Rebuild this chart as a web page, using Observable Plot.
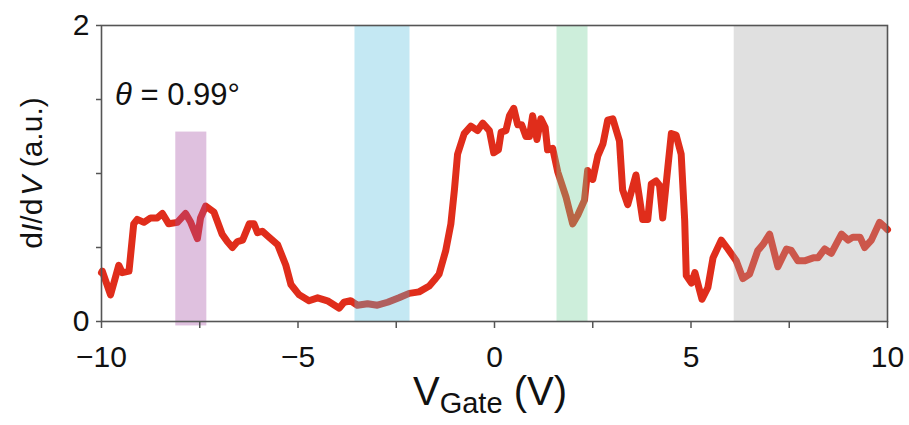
<!DOCTYPE html>
<html><head><meta charset="utf-8">
<script src="https://cdn.jsdelivr.net/npm/d3@7"></script>
<script src="https://cdn.jsdelivr.net/npm/@observablehq/plot@0.6"></script>
<style>body{margin:0;background:#fff} #chart{width:909px;height:425px}</style>
</head><body><div id="chart"></div>
<script>
// Gate voltage (V) and dI/dV (a.u.)
const vgate = [-10.0,-9.98,-9.77,-9.56,-9.47,-9.30,-9.18,-9.09,-8.92,-8.75,-8.58,-8.45,-8.29,-8.07,-7.86,-7.73,-7.56,-7.48,-7.35,-7.14,-6.93,-6.80,-6.67,-6.54,-6.41,-6.24,-6.12,-6.03,-5.91,-5.74,-5.52,-5.31,-5.18,-4.97,-4.72,-4.50,-4.25,-3.95,-3.83,-3.66,-3.49,-3.23,-2.98,-2.72,-2.43,-2.17,-1.92,-1.66,-1.53,-1.41,-1.24,-1.11,-1.02,-0.94,-0.77,-0.60,-0.43,-0.30,-0.13,-0.02,0.10,0.17,0.29,0.38,0.49,0.59,0.69,0.80,0.89,0.97,1.08,1.18,1.29,1.35,1.48,1.61,1.82,1.99,2.12,2.29,2.37,2.50,2.63,2.76,2.88,3.01,3.18,3.26,3.39,3.60,3.77,3.90,3.99,4.11,4.20,4.28,4.41,4.50,4.62,4.75,4.84,4.88,5.01,5.10,5.28,5.43,5.56,5.77,5.94,6.15,6.32,6.49,6.70,6.83,7.00,7.21,7.43,7.55,7.72,7.89,8.11,8.23,8.40,8.57,8.83,9.00,9.12,9.30,9.42,9.59,9.80,9.93,10.0];
const didv = [0.33,0.34,0.18,0.38,0.33,0.34,0.66,0.69,0.67,0.70,0.70,0.73,0.66,0.67,0.73,0.67,0.56,0.70,0.78,0.74,0.59,0.54,0.50,0.54,0.55,0.66,0.66,0.60,0.61,0.57,0.52,0.38,0.25,0.18,0.14,0.16,0.14,0.09,0.13,0.14,0.11,0.12,0.11,0.13,0.16,0.19,0.20,0.24,0.28,0.32,0.48,0.66,0.89,1.13,1.27,1.32,1.29,1.34,1.29,1.14,1.16,1.28,1.29,1.39,1.44,1.33,1.33,1.25,1.25,1.39,1.23,1.37,1.31,1.16,1.17,1.01,0.84,0.66,0.72,0.82,1.02,0.96,1.12,1.20,1.36,1.37,1.22,0.89,0.79,0.99,0.69,0.69,0.93,0.95,0.92,0.70,1.04,1.27,1.26,1.13,0.68,0.31,0.26,0.33,0.15,0.23,0.43,0.55,0.49,0.41,0.29,0.32,0.48,0.52,0.59,0.37,0.49,0.48,0.41,0.41,0.43,0.43,0.49,0.46,0.59,0.55,0.57,0.57,0.50,0.55,0.67,0.64,0.62];

// Highlighted gate-voltage windows
const bandX1 = [-8.11, -3.55, 1.59, 6.10];
const bandX2 = [-7.32, -2.15, 2.38, 10.0];
const bandY1 = [-0.03, 0, 0, 0];
const bandY2 = [1.28, 2, 2, 2];
const bandColors = ["#a44ea4", "#56bedd", "#70ce98", "#a6a6a6"];

// Axis ticks
const xTicks = [-10, -7.5, -5, -2.5, 0, 2.5, 5, 7.5, 10];
const xTickLabels = ["−10", "", "−5", "", "0", "", "5", "", "10"];
const yTicks = [0, 0.5, 1, 1.5, 2];
const yTickLabels = ["0", "", "", "", "2"];

const data = vgate.map((v, i) => ({v, g: didv[i]}));
const bands = bandX1.map((x1, i) => ({x1, x2: bandX2[i], y1: bandY1[i], y2: bandY2[i], c: bandColors[i]}));

const chart = Plot.plot({
  width: 909, height: 425,
  marginLeft: 101, marginRight: 22, marginTop: 25, marginBottom: 104,
  style: {fontFamily: "'Liberation Sans', Arial, sans-serif", fontSize: "30px", color: "#111", background: "#fff", overflow: "visible"},
  x: {domain: [-10, 10]},
  y: {domain: [0, 2]},
  marks: [
    Plot.line(data, {x: "v", y: "g", stroke: "#e02d1b", strokeWidth: 7, strokeLinejoin: "round", strokeLinecap: "round"}),
    Plot.rect(bands, {x1: "x1", x2: "x2", y1: "y1", y2: "y2", fill: d => d.c, fillOpacity: 0.35}),
    Plot.frame({stroke: "#555", strokeWidth: 1.6}),
    Plot.axisX({ticks: xTicks, tickFormat: d => xTickLabels[xTicks.indexOf(d)], tickSize: 7, tickPadding: 17, label: null, stroke: "#555", strokeWidth: 1.5, fontSize: 30}),
    Plot.axisY({ticks: yTicks, tickFormat: d => yTickLabels[yTicks.indexOf(d)], tickSize: 5, tickPadding: 7, label: null, stroke: "#555", strokeWidth: 1.5, fontSize: 30})
  ]
});
document.getElementById("chart").append(chart);

const svg = d3.select(chart);
const th = svg.append("text").attr("x", 115).attr("y", 105).attr("font-size", 31).attr("fill", "#111")
  .attr("text-anchor", "start").attr("font-family", "'Liberation Sans', Arial, sans-serif");
th.append("tspan").attr("font-style", "italic").text("θ");
th.append("tspan").text(" = 0.99°");

const yl = svg.append("text").attr("transform", "translate(42,173) rotate(-90)").attr("text-anchor", "middle")
  .attr("font-size", 30).attr("fill", "#111").attr("font-family", "'Liberation Sans', Arial, sans-serif");
yl.append("tspan").text("d");
yl.append("tspan").attr("font-style", "italic").text("I");
yl.append("tspan").text("/d");
yl.append("tspan").attr("font-style", "italic").attr("dx", 3).text("V");
yl.append("tspan").text(" (a.u.)");

const xl = svg.append("text").attr("x", 490).attr("y", 405).attr("text-anchor", "middle")
  .attr("font-size", 40).attr("fill", "#111").attr("font-family", "'Liberation Sans', Arial, sans-serif");
xl.append("tspan").text("V");
xl.append("tspan").attr("font-size", 29).attr("dy", 8).text("Gate");
xl.append("tspan").attr("dy", -8).text(" (V)");
</script>
</body></html>
